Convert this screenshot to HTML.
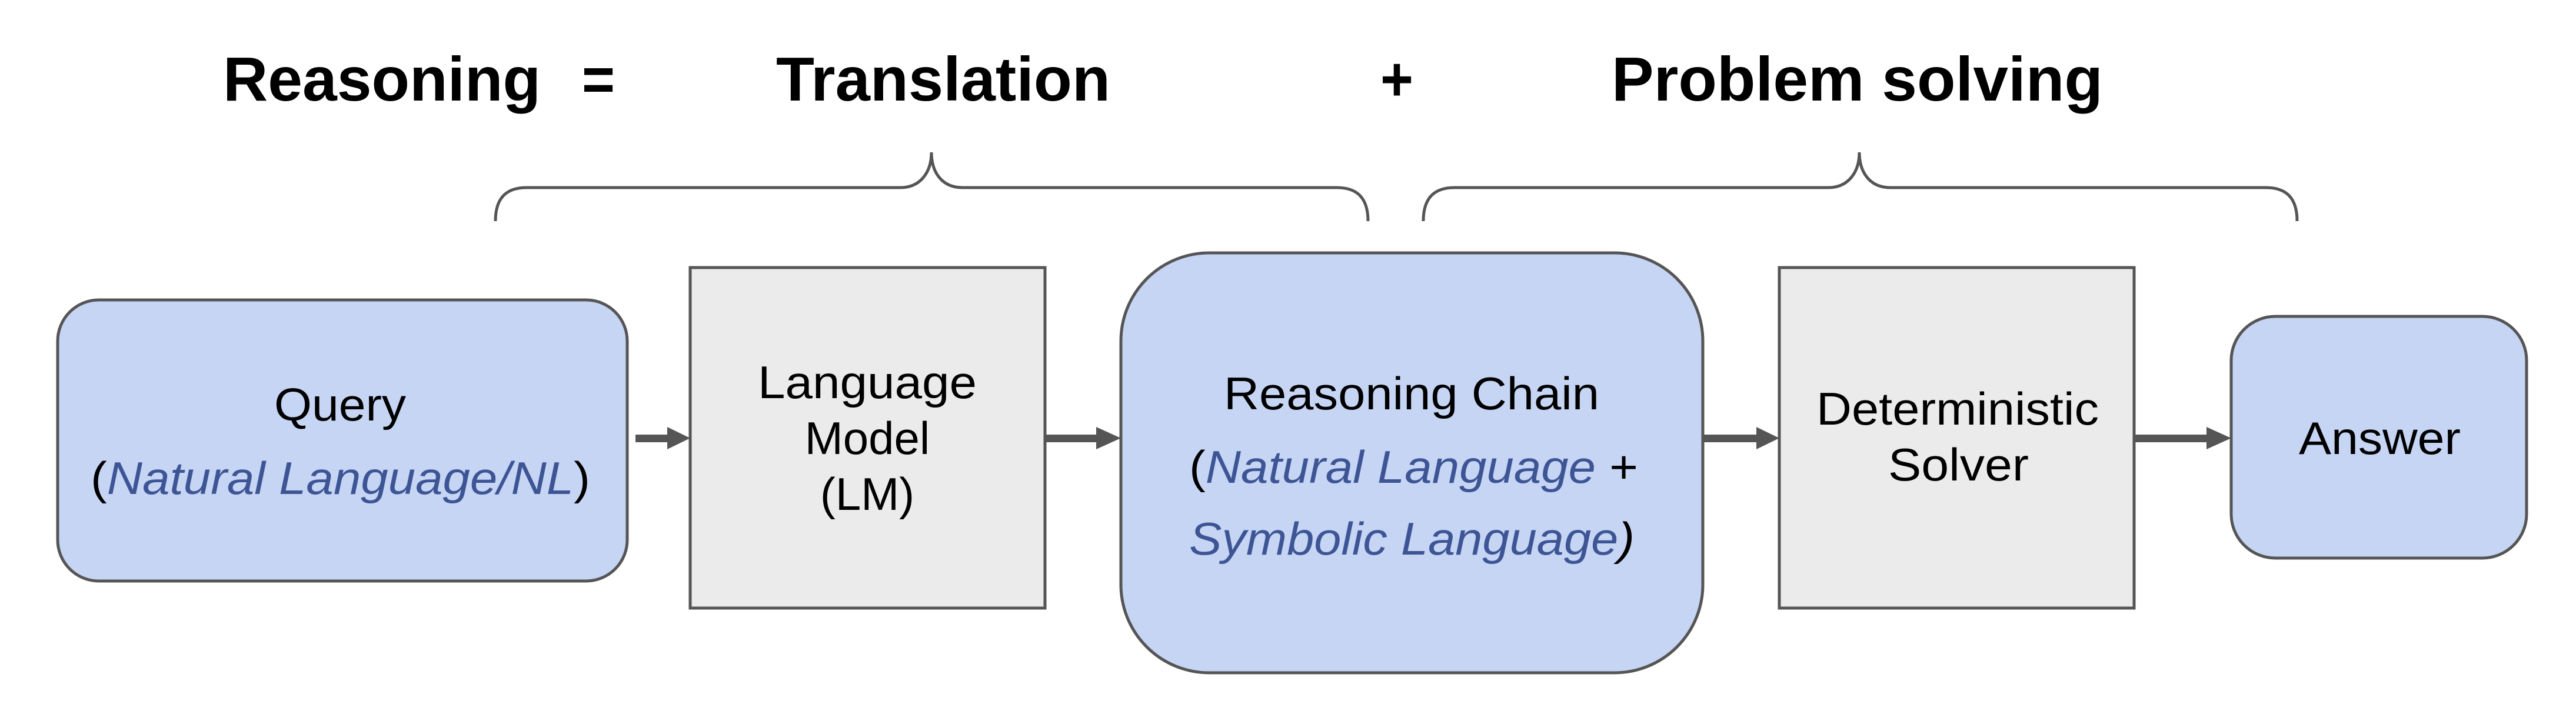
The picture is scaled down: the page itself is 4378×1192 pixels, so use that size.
<!DOCTYPE html>
<html><head><meta charset="utf-8"><style>html,body{margin:0;padding:0;background:#fff}svg{display:block}</style></head>
<body>
<svg width="4378" height="1192" viewBox="0 0 4378 1192" xmlns="http://www.w3.org/2000/svg" font-family="Liberation Sans, Arial, sans-serif">
<g font-weight="bold" font-size="106" fill="#000">
<text x="379" y="171" textLength="540" lengthAdjust="spacingAndGlyphs">Reasoning</text>
<text x="989" y="171" textLength="56" lengthAdjust="spacingAndGlyphs">=</text>
<text x="1319" y="171" textLength="568" lengthAdjust="spacingAndGlyphs">Translation</text>
<text x="2346" y="171" textLength="56" lengthAdjust="spacingAndGlyphs">+</text>
<text x="2739" y="171" textLength="835" lengthAdjust="spacingAndGlyphs">Problem solving</text>
</g>
<g fill="none" stroke="#555" stroke-width="5">
<path d="M842,376 C842,335 862,319 895,319 L1530,319 C1565,319 1583,292 1583,259 C1583,292 1600,319 1636,319 L2272,319 C2305,319 2325,335 2325,376"/>
<path d="M2419,376 C2419,335 2439,319 2472,319 L3107,319 C3142,319 3160,292 3160,259 C3160,292 3177,319 3213,319 L3851,319 C3884,319 3904,335 3904,376"/>
</g>
<g stroke="#555" stroke-width="5">
<rect x="98" y="510" width="968" height="478" rx="70" ry="70" fill="#c6d5f4"/>
<rect x="1173" y="455" width="603" height="579" fill="#ebebeb"/>
<rect x="1905" y="430" width="989" height="714" rx="150" ry="150" fill="#c6d5f4"/>
<rect x="3024" y="455" width="603" height="579" fill="#ebebeb"/>
<rect x="3792" y="538" width="502" height="411" rx="75" ry="75" fill="#c6d5f4"/>
</g>
<g fill="#555">
<rect x="1080" y="739" width="56" height="13"/><polygon points="1134,726 1173,745 1134,764"/>
<rect x="1776" y="739" width="90" height="13"/><polygon points="1863,726 1905,745 1863,764"/>
<rect x="2894" y="739" width="93" height="13"/><polygon points="2985,726 3024,745 2985,764"/>
<rect x="3627" y="739" width="125" height="13"/><polygon points="3750,726 3792,745 3750,764"/>
</g>
<g font-size="78" fill="#000">
<text x="466" y="715" textLength="224" lengthAdjust="spacingAndGlyphs">Query</text>
<text x="154" y="840" textLength="849" lengthAdjust="spacingAndGlyphs">(<tspan fill="#3d5595" font-style="italic">Natural Language/NL</tspan>)</text>
<text x="1288" y="677" textLength="372" lengthAdjust="spacingAndGlyphs">Language</text>
<text x="1474" y="772" text-anchor="middle">Model</text>
<text x="1474" y="867" text-anchor="middle">(LM)</text>
<text x="2080" y="696" textLength="638" lengthAdjust="spacingAndGlyphs">Reasoning Chain</text>
<text x="2021" y="821" textLength="763" lengthAdjust="spacingAndGlyphs">(<tspan fill="#3d5595" font-style="italic">Natural Language</tspan> +</text>
<text x="2021" y="943" textLength="757" lengthAdjust="spacingAndGlyphs"><tspan fill="#3d5595" font-style="italic">Symbolic Language</tspan><tspan font-style="italic">)</tspan></text>
<text x="3087" y="722" textLength="480" lengthAdjust="spacingAndGlyphs">Deterministic</text>
<text x="3209" y="817" textLength="239" lengthAdjust="spacingAndGlyphs">Solver</text>
<text x="3907" y="772" textLength="275" lengthAdjust="spacingAndGlyphs">Answer</text>
</g>
</svg>
</body></html>
